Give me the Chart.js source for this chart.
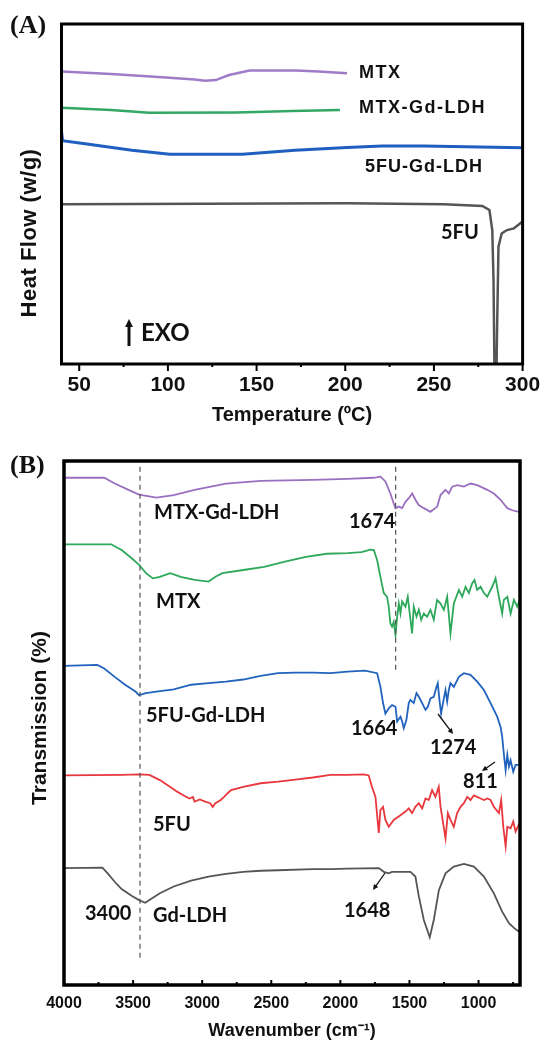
<!DOCTYPE html>
<html>
<head>
<meta charset="utf-8">
<script src="https://cdn.jsdelivr.net/npm/chart.js@4.4.1/dist/chart.umd.min.js"></script>
<style>
  html, body { margin: 0; padding: 0; background: #fff; }
  #wrapA { position: absolute; left: 0; top: 0; width: 544px; height: 430px; }
  #wrapB { position: absolute; left: 0; top: 430px; width: 544px; height: 612px; }
</style>
</head>
<body>
<div id="wrapA"><canvas id="dscChart"></canvas></div>
<div id="wrapB"><canvas id="ftirChart"></canvas></div>
<script>
// ---- (A) DSC curves: temperature (C) vs heat flow (arbitrary units, 0-100)
const dscTickLabels = [50, 100, 150, 200, 250, 300];
const dscMinorTicks = [75, 125, 175, 225, 275];

const mtxTemp = [40, 68, 99, 115, 121, 127, 134.5, 146, 172, 185, 201];
const mtxHeat = [86.0, 85.3, 84.3, 83.7, 83.3, 83.5, 85.0, 86.3, 86.3, 86.0, 85.5];

const mtxLdhTemp = [40, 68, 89.5, 138.4, 170, 197];
const mtxLdhHeat = [75.4, 74.7, 73.9, 74.0, 74.4, 74.7];

const fuLdhTemp = [40, 40.6, 54.3, 79.7, 101, 142, 171.7, 201, 220.7, 244, 300];
const fuLdhHeat = [68.5, 65.7, 64.7, 62.9, 61.7, 61.7, 62.9, 63.7, 64.1, 64.1, 63.6];

const fuTemp = [40, 201, 255.6, 277.3, 281.3, 282.9, 283.6, 284.2, 285.2, 285.6, 286.4, 288.2, 291.2, 295.1, 300];
const fuHeat = [47, 47.3, 47, 46.5, 45.3, 39.4, 24.7, -5, -5, 10, 34.5, 38.4, 39.4, 39.9, 41.9];

// ---- (B) FTIR spectra: wavenumber (cm-1) vs transmission (offset, 0-100)
const ftirTickLabels = [4000, 3500, 3000, 2500, 2000, 1500, 1000];
const ftirMinorTicks = [3750, 3250, 2750, 2250, 1750, 1250, 750];

const mtxLdhWn = [4000, 3709, 3633, 3533, 3457, 3331, 3206, 3055, 2828, 2577, 2199, 1948, 1760, 1710, 1674, 1638, 1614, 1601, 1577, 1553, 1529, 1505, 1480, 1457, 1433, 1396, 1348, 1299, 1275, 1239, 1215, 1191, 1154, 1106, 1058, 1009, 937, 889, 841, 792, 756, 708];
const mtxLdhTr = [96.8, 96.8, 95.7, 94.5, 93.6, 93.0, 93.5, 94.5, 95.7, 96.2, 96.4, 96.6, 96.8, 97.0, 96.1, 93.8, 91.9, 91.0, 91.3, 91.0, 92.2, 92.9, 93.8, 92.6, 91.6, 91.0, 90.3, 91.3, 93.5, 94.5, 93.8, 95.1, 95.4, 95.1, 95.7, 95.4, 94.5, 93.8, 92.6, 91.0, 90.6, 90.3];

const mtxWn = [4000, 3659, 3583, 3508, 3457, 3407, 3357, 3307, 3231, 3155, 3055, 2954, 2904, 2854, 2702, 2551, 2401, 2249, 2099, 1948, 1847, 1783, 1758, 1734, 1710, 1686, 1662, 1650, 1638, 1626, 1614, 1601, 1589, 1577, 1565, 1553, 1529, 1512, 1498, 1481, 1469, 1449, 1432, 1415, 1396, 1372, 1348, 1324, 1300, 1275, 1251, 1227, 1203, 1179, 1142, 1118, 1094, 1070, 1046, 1029, 1010, 985, 961, 937, 901, 877, 853, 829, 817, 792, 768, 744, 720, 703];
const mtxTr = [84.1, 84.1, 83.0, 81.4, 80.2, 78.6, 77.6, 77.9, 78.6, 77.9, 77.3, 77.0, 77.9, 78.6, 79.2, 79.8, 80.8, 81.7, 82.3, 82.4, 82.6, 83.1, 83.0, 81.1, 77.9, 74.8, 74.1, 72.2, 69.0, 68.4, 69.3, 66.8, 70.3, 72.8, 70.9, 73.2, 72.2, 74.1, 70.9, 67.1, 72.2, 70.3, 71.6, 69.7, 70.9, 70.3, 71.6, 69.7, 73.5, 72.8, 71.6, 74.1, 67.1, 72.8, 75.4, 74.1, 76.0, 74.8, 76.7, 77.3, 75.4, 76.0, 74.8, 74.1, 76.0, 77.6, 74.1, 70.9, 73.5, 74.1, 70.9, 73.5, 72.2, 73.5];

const fuLdhWn = [4000, 3759, 3709, 3633, 3558, 3483, 3457, 3407, 3332, 3206, 3080, 2954, 2828, 2703, 2577, 2451, 2325, 2199, 2072, 1948, 1822, 1734, 1710, 1691, 1674, 1650, 1626, 1601, 1589, 1565, 1553, 1541, 1522, 1505, 1493, 1469, 1449, 1432, 1408, 1384, 1367, 1348, 1324, 1304, 1295, 1283, 1271, 1251, 1239, 1227, 1215, 1203, 1179, 1142, 1106, 1058, 1010, 961, 913, 865, 841, 829, 816, 804, 792, 780, 768, 749, 732, 703];
const fuLdhTr = [60.9, 61.1, 60.4, 58.8, 57.3, 56.0, 55.3, 55.7, 56.0, 56.4, 57.3, 57.6, 57.9, 58.3, 59.0, 59.5, 59.6, 59.6, 59.5, 59.8, 60.0, 59.5, 56.9, 53.8, 51.8, 52.8, 53.4, 53.1, 50.3, 51.2, 50.3, 49.0, 50.6, 53.8, 54.4, 53.8, 55.7, 55.0, 53.8, 52.5, 53.1, 54.7, 55.0, 56.9, 57.6, 54.4, 51.8, 54.7, 56.3, 54.1, 56.3, 57.6, 56.9, 58.8, 59.5, 59.2, 57.9, 56.3, 53.8, 51.2, 49.3, 47.4, 43.9, 41.0, 43.9, 41.7, 42.9, 40.7, 42.0, 42.0];

const fuWn = [4000, 3583, 3457, 3382, 3306, 3231, 3181, 3143, 3093, 3067, 3055, 3017, 2979, 2942, 2924, 2904, 2866, 2841, 2816, 2791, 2703, 2577, 2451, 2325, 2199, 2072, 1948, 1831, 1795, 1771, 1746, 1722, 1710, 1691, 1674, 1650, 1614, 1565, 1529, 1505, 1481, 1457, 1432, 1408, 1384, 1360, 1336, 1312, 1288, 1275, 1251, 1239, 1222, 1203, 1179, 1155, 1130, 1106, 1082, 1058, 1034, 1010, 985, 961, 937, 913, 889, 853, 836, 821, 804, 792, 768, 749, 732, 703];
const fuTr = [40.0, 40.1, 40.2, 40.1, 39.1, 37.8, 36.9, 36.3, 35.6, 35.9, 35.0, 35.4, 35.0, 34.7, 34.0, 34.7, 35.3, 35.9, 36.6, 37.2, 37.8, 38.5, 38.8, 39.2, 39.6, 40.1, 40.1, 40.2, 40.0, 37.8, 35.9, 29.0, 33.4, 34.0, 31.5, 30.2, 31.5, 32.4, 33.1, 33.7, 32.8, 34.0, 34.7, 33.7, 35.6, 35.3, 37.2, 35.9, 37.8, 34.0, 30.0, 28.0, 32.8, 31.5, 30.2, 32.8, 34.0, 34.7, 35.9, 35.3, 36.2, 35.9, 35.6, 35.3, 35.6, 35.3, 34.0, 32.8, 35.3, 30.2, 26.5, 30.2, 29.9, 31.2, 29.3, 30.9];

const gdLdhWn = [4000, 3722, 3684, 3633, 3583, 3508, 3457, 3412, 3382, 3306, 3206, 3080, 2954, 2828, 2703, 2577, 2451, 2199, 2072, 1948, 1721, 1686, 1650, 1626, 1493, 1457, 1432, 1396, 1353, 1324, 1287, 1239, 1179, 1106, 1034, 961, 889, 829, 780, 740, 708, 700];
const gdLdhTr = [22.3, 22.4, 21.3, 19.7, 18.3, 17.0, 16.2, 15.7, 16.2, 17.5, 18.8, 19.9, 20.7, 21.2, 21.6, 21.8, 21.9, 22.1, 22.1, 22.2, 22.3, 21.6, 21.3, 21.6, 21.6, 20.7, 16.9, 12.4, 9.1, 12.4, 18.1, 21.3, 22.6, 23.1, 22.6, 20.7, 17.5, 14.0, 11.8, 10.8, 10.2, 10.0];

// dashed guide lines (3400 and 1674 bands)
const guideWn = [3450, 1600];
const guideTop = [98.9, 98.9];
const guideBottom = [5.2, 59.5];

function pts(xs, ys) {
    return xs.map((x, i) => ({ x: x, y: ys[i] }));
}

function line(data, color, width) {
    return { data: data, borderColor: color, borderWidth: width, showLine: true, pointRadius: 0, fill: false };
}

function fixedTicks(values) {
    return scale => { scale.ticks = values.slice().sort((a, b) => a - b).map(v => ({ value: v })); };
}

function drawNote(ctx, n) {
    ctx.save();
    ctx.font = n.font;
    ctx.fillStyle = '#111';
    ctx.textBaseline = 'middle';
    ctx.textAlign = n.align || 'left';
    if ('letterSpacing' in ctx) ctx.letterSpacing = n.ls || '0px';
    if (n.rotate) {
        ctx.translate(n.x, n.y);
        ctx.rotate(-Math.PI / 2);
        ctx.textAlign = 'center';
        ctx.fillText(n.text, 0, 0);
    } else {
        ctx.fillText(n.text, n.x, n.y);
    }
    ctx.restore();
}

function drawArrow(ctx, a) {
    const ang = Math.atan2(a.y2 - a.y1, a.x2 - a.x1);
    const h = a.head;
    ctx.save();
    ctx.strokeStyle = '#111';
    ctx.fillStyle = '#111';
    ctx.lineWidth = a.width;
    ctx.beginPath();
    ctx.moveTo(a.x1, a.y1);
    ctx.lineTo(a.x2 - Math.cos(ang) * h * 0.6, a.y2 - Math.sin(ang) * h * 0.6);
    ctx.stroke();
    ctx.beginPath();
    ctx.moveTo(a.x2, a.y2);
    ctx.lineTo(a.x2 - h * Math.cos(ang - 0.45), a.y2 - h * Math.sin(ang - 0.45));
    ctx.lineTo(a.x2 - h * Math.cos(ang + 0.45), a.y2 - h * Math.sin(ang + 0.45));
    ctx.closePath();
    ctx.fill();
    ctx.restore();
}

// frame, tick marks and text labels for one panel
function decor(cfg) {
    return {
        id: 'decor',
        afterDatasetsDraw(chart) {
            const ctx = chart.ctx;
            const a = chart.chartArea;
            const x = chart.scales.x;
            ctx.save();
            ctx.strokeStyle = '#000';
            ctx.lineWidth = 2;
            x.ticks.forEach(t => {
                const px = x.getPixelForValue(t.value);
                const len = cfg.labels.includes(t.value) ? cfg.major : cfg.minor;
                ctx.beginPath();
                ctx.moveTo(px, a.bottom);
                ctx.lineTo(px, a.bottom + len * cfg.dir);
                ctx.stroke();
            });
            ctx.lineWidth = cfg.frame;
            ctx.strokeRect(a.left, a.top, a.right - a.left, a.bottom - a.top);
            ctx.restore();
            cfg.notes.forEach(n => drawNote(ctx, n));
            cfg.arrows.forEach(ar => drawArrow(ctx, ar));
        }
    };
}

const sansB = '"Liberation Sans", Arial, sans-serif';
const calB = 'Lato, "Open Sans", sans-serif';
const serifB = 'bold 26px "Liberation Serif", "Times New Roman", serif';

new Chart(document.getElementById('dscChart'), {
    type: 'scatter',
    data: {
        datasets: [
            line(pts(mtxTemp, mtxHeat), '#a07cc8', 2.5),
            line(pts(mtxLdhTemp, mtxLdhHeat), '#33a864', 2.5),
            line(pts(fuLdhTemp, fuLdhHeat), '#1f5fbf', 3),
            line(pts(fuTemp, fuHeat), '#555555', 2.5)
        ]
    },
    options: {
        responsive: true,
        maintainAspectRatio: false,
        animation: false,
        layout: { padding: { top: 24, right: 21.4, left: 0, bottom: 0 } },
        plugins: { legend: { display: false }, tooltip: { enabled: false } },
        scales: {
            x: {
                type: 'linear', min: 40, max: 300,
                grid: { display: false }, border: { display: false },
                afterBuildTicks: fixedTicks(dscTickLabels.concat(dscMinorTicks)),
                ticks: {
                    autoSkip: false, maxRotation: 0, padding: 1,
                    color: '#111', font: { family: sansB, size: 21, weight: 'bold' },
                    callback: v => dscTickLabels.includes(v) ? v : ''
                },
                title: {
                    display: true, text: 'Temperature (ºC)', color: '#111',
                    font: { family: sansB, size: 20, weight: 'bold' }, padding: { top: 0, bottom: 3 }
                },
                afterFit: s => { s.height = 66; }
            },
            y: {
                min: 0, max: 100,
                grid: { display: false }, border: { display: false },
                ticks: { display: false },
                afterFit: s => { s.width = 61.5; }
            }
        }
    },
    plugins: [decor({
        labels: dscTickLabels, major: 7, minor: 3, dir: 1, frame: 3,
        notes: [
            { text: '(A)', x: 10, y: 26, font: serifB },
            { text: 'MTX', x: 359, y: 73, font: 'bold 18px ' + sansB, ls: '1.5px' },
            { text: 'MTX-Gd-LDH', x: 359, y: 108, font: 'bold 18px ' + sansB, ls: '1.5px' },
            { text: '5FU-Gd-LDH', x: 365, y: 167, font: 'bold 18px ' + sansB, ls: '1px' },
            { text: '5FU', x: 441, y: 233, font: 'bold 20px ' + calB },
            { text: 'EXO', x: 141, y: 333, font: 'bold 24px ' + calB },
            { text: 'Heat Flow (w/g)', x: 30, y: 233, rotate: true, font: 'bold 22px ' + sansB, ls: '0.5px' }
        ],
        arrows: [
            { x1: 129, y1: 346, x2: 129, y2: 319, width: 3, head: 9 }
        ]
    })]
});

const guideA = pts([guideWn[0], guideWn[0]], [guideTop[0], guideBottom[0]]);
const guideB = pts([guideWn[1], guideWn[1]], [guideTop[1], guideBottom[1]]);

new Chart(document.getElementById('ftirChart'), {
    type: 'scatter',
    data: {
        datasets: [
            Object.assign(line(guideA, '#555', 1.2), { borderDash: [5, 4] }),
            Object.assign(line(guideB, '#555', 1.2), { borderDash: [5, 4] }),
            line(pts(mtxLdhWn, mtxLdhTr), '#9b6fc0', 1.8),
            line(pts(mtxWn, mtxTr), '#2ea85a', 1.8),
            line(pts(fuLdhWn, fuLdhTr), '#2163bd', 1.8),
            line(pts(fuWn, fuTr), '#e8383d', 1.8),
            line(pts(gdLdhWn, gdLdhTr), '#555555', 1.8)
        ]
    },
    options: {
        responsive: true,
        maintainAspectRatio: false,
        animation: false,
        layout: { padding: { top: 31, right: 24, left: 0, bottom: 0 } },
        plugins: { legend: { display: false }, tooltip: { enabled: false } },
        scales: {
            x: {
                type: 'linear', min: 700, max: 4000, reverse: true,
                grid: { display: false }, border: { display: false },
                afterBuildTicks: fixedTicks(ftirTickLabels.concat(ftirMinorTicks)),
                ticks: {
                    autoSkip: false, maxRotation: 0, padding: 1,
                    color: '#111', font: { family: sansB, size: 16, weight: 'bold' },
                    callback: v => ftirTickLabels.includes(v) ? v : ''
                },
                title: {
                    display: true, text: 'Wavenumber (cm⁻¹)', color: '#111',
                    font: { family: sansB, size: 18, weight: 'bold' }, padding: { top: 0, bottom: 0 }
                },
                afterFit: s => { s.height = 57; }
            },
            y: {
                min: 0, max: 100,
                grid: { display: false }, border: { display: false },
                ticks: { display: false },
                afterFit: s => { s.width = 64; }
            }
        }
    },
    plugins: [decor({
        labels: ftirTickLabels, major: 5, minor: 3, dir: -1, frame: 3.5,
        notes: [
            { text: '(B)', x: 10, y: 36, font: serifB },
            { text: 'MTX-Gd-LDH', x: 154, y: 83, font: 'bold 20px ' + calB },
            { text: '1674', x: 349, y: 92, font: 'bold 20px ' + calB },
            { text: 'MTX', x: 156, y: 172, font: 'bold 20px ' + calB },
            { text: '5FU-Gd-LDH', x: 146, y: 286, font: 'bold 20px ' + calB },
            { text: '1664', x: 351, y: 299, font: 'bold 20px ' + calB },
            { text: '1274', x: 430, y: 318, font: 'bold 20px ' + calB },
            { text: '811', x: 463, y: 352, font: 'bold 20px ' + calB },
            { text: '5FU', x: 153, y: 395, font: 'bold 20px ' + calB },
            { text: '3400', x: 85, y: 484, font: 'bold 20px ' + calB },
            { text: 'Gd-LDH', x: 153, y: 486, font: 'bold 20px ' + calB },
            { text: '1648', x: 344, y: 481, font: 'bold 20px ' + calB },
            { text: 'Transmission (%)', x: 40, y: 288, rotate: true, font: 'bold 21px ' + sansB }
        ],
        arrows: [
            { x1: 438, y1: 284, x2: 453, y2: 304, width: 1.3, head: 6 },
            { x1: 495, y1: 332, x2: 482, y2: 341, width: 1.3, head: 6 },
            { x1: 385, y1: 443, x2: 373, y2: 460, width: 1.3, head: 6 }
        ]
    })]
});
</script>
</body>
</html>
